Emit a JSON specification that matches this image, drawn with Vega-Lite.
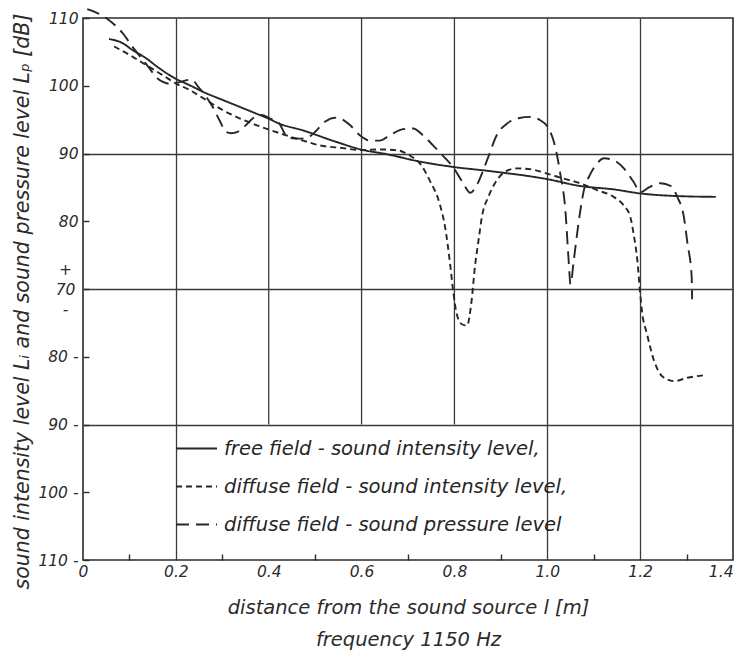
{
  "$schema": "https://vega.github.io/schema/vega-lite/v6.json",
  "width": 650,
  "height": 542,
  "autosize": {"type": "none"},
  "padding": {"left": 83, "top": 18, "right": 7, "bottom": 93},
  "background": "white",
  "config": {
    "view": {"stroke": "#2b2b2b", "strokeWidth": 1.6},
    "font": "DejaVu Sans",
    "axis": {
      "labelFont": "DejaVu Sans", "labelFontStyle": "italic", "labelFontSize": 15.5, "labelColor": "#2b2b2b",
      "titleFont": "DejaVu Sans", "titleFontStyle": "italic", "titleFontWeight": "normal", "titleFontSize": 19.5, "titleColor": "#2b2b2b",
      "gridColor": "#3a3a3a", "gridWidth": 1.3, "tickColor": "#2b2b2b", "tickWidth": 1.4, "domain": false
    }
  },
  "encoding": {
    "x": {
      "field": "distance", "type": "quantitative",
      "scale": {"domain": [0, 1.4], "nice": false, "zero": false},
      "axis": {
        "values": [0, 0.1, 0.2, 0.3, 0.4, 0.5, 0.6, 0.7, 0.8, 0.9, 1.0, 1.1, 1.2, 1.3, 1.4],
        "labelExpr": "round(datum.value*10) % 2 == 1 ? '' : (datum.value == 0 ? '0' : format(datum.value, '.1f'))",
        "tickSize": {"condition": {"test": "round(datum.value*10) % 2 == 1", "value": -6}, "value": 0},
        "labelPadding": 4,
        "labelAlign": {"condition": {"test": "round(datum.value*10) == 14", "value": "right"}, "value": "center"},
        "labelFlush": false,
        "labelOverlap": false,
        "grid": true,
        "gridOpacity": {"condition": {"test": "indexof([2, 10, 12], round(datum.value*10)) >= 0", "value": 1}, "value": 0},
        "title": ["distance from the sound source l [m]", "frequency 1150 Hz"],
        "titleLineHeight": 32,
        "titlePadding": 19
      }
    }
  },
  "layer": [
    {
      "data": {"values": [{"distance": 0.4}, {"distance": 0.6}, {"distance": 0.8}]},
      "mark": {"type": "rule", "color": "#3a3a3a", "strokeWidth": 1.3},
      "encoding": {
        "y": {"datum": 110, "type": "quantitative"},
        "y2": {"datum": -90}
      }
    },
    {
      "data": {"values": [
        {"series": "free field - sound intensity level,", "distance": 0.056, "level": 106.9},
        {"series": "free field - sound intensity level,", "distance": 0.085, "level": 106.3},
        {"series": "free field - sound intensity level,", "distance": 0.106, "level": 105.3},
        {"series": "free field - sound intensity level,", "distance": 0.135, "level": 104.1},
        {"series": "free field - sound intensity level,", "distance": 0.164, "level": 102.6},
        {"series": "free field - sound intensity level,", "distance": 0.198, "level": 101.1},
        {"series": "free field - sound intensity level,", "distance": 0.229, "level": 100.1},
        {"series": "free field - sound intensity level,", "distance": 0.265, "level": 98.9},
        {"series": "free field - sound intensity level,", "distance": 0.301, "level": 97.9},
        {"series": "free field - sound intensity level,", "distance": 0.337, "level": 96.9},
        {"series": "free field - sound intensity level,", "distance": 0.373, "level": 95.9},
        {"series": "free field - sound intensity level,", "distance": 0.398, "level": 95.2},
        {"series": "free field - sound intensity level,", "distance": 0.423, "level": 94.4},
        {"series": "free field - sound intensity level,", "distance": 0.474, "level": 93.4},
        {"series": "free field - sound intensity level,", "distance": 0.546, "level": 91.7},
        {"series": "free field - sound intensity level,", "distance": 0.598, "level": 90.6},
        {"series": "free field - sound intensity level,", "distance": 0.654, "level": 89.9},
        {"series": "free field - sound intensity level,", "distance": 0.726, "level": 88.8},
        {"series": "free field - sound intensity level,", "distance": 0.799, "level": 88.0},
        {"series": "free field - sound intensity level,", "distance": 0.877, "level": 87.4},
        {"series": "free field - sound intensity level,", "distance": 1.001, "level": 86.2},
        {"series": "free field - sound intensity level,", "distance": 1.071, "level": 85.2},
        {"series": "free field - sound intensity level,", "distance": 1.143, "level": 84.7},
        {"series": "free field - sound intensity level,", "distance": 1.201, "level": 84.1},
        {"series": "free field - sound intensity level,", "distance": 1.287, "level": 83.7},
        {"series": "free field - sound intensity level,", "distance": 1.363, "level": 83.6},

        {"series": "diffuse field - sound intensity level,", "distance": 0.067, "level": 105.8},
        {"series": "diffuse field - sound intensity level,", "distance": 0.099, "level": 104.6},
        {"series": "diffuse field - sound intensity level,", "distance": 0.135, "level": 103.1},
        {"series": "diffuse field - sound intensity level,", "distance": 0.171, "level": 101.6},
        {"series": "diffuse field - sound intensity level,", "distance": 0.198, "level": 100.4},
        {"series": "diffuse field - sound intensity level,", "distance": 0.229, "level": 99.4},
        {"series": "diffuse field - sound intensity level,", "distance": 0.265, "level": 97.9},
        {"series": "diffuse field - sound intensity level,", "distance": 0.301, "level": 96.4},
        {"series": "diffuse field - sound intensity level,", "distance": 0.337, "level": 95.2},
        {"series": "diffuse field - sound intensity level,", "distance": 0.373, "level": 94.2},
        {"series": "diffuse field - sound intensity level,", "distance": 0.402, "level": 93.5},
        {"series": "diffuse field - sound intensity level,", "distance": 0.474, "level": 91.9},
        {"series": "diffuse field - sound intensity level,", "distance": 0.51, "level": 91.2},
        {"series": "diffuse field - sound intensity level,", "distance": 0.56, "level": 90.8},
        {"series": "diffuse field - sound intensity level,", "distance": 0.598, "level": 90.5},
        {"series": "diffuse field - sound intensity level,", "distance": 0.639, "level": 90.6},
        {"series": "diffuse field - sound intensity level,", "distance": 0.675, "level": 90.5},
        {"series": "diffuse field - sound intensity level,", "distance": 0.704, "level": 89.7},
        {"series": "diffuse field - sound intensity level,", "distance": 0.726, "level": 88.5},
        {"series": "diffuse field - sound intensity level,", "distance": 0.747, "level": 86.0},
        {"series": "diffuse field - sound intensity level,", "distance": 0.769, "level": 82.4},
        {"series": "diffuse field - sound intensity level,", "distance": 0.78, "level": 79.1},
        {"series": "diffuse field - sound intensity level,", "distance": 0.79, "level": 74.1},
        {"series": "diffuse field - sound intensity level,", "distance": 0.798, "level": -70.7},
        {"series": "diffuse field - sound intensity level,", "distance": 0.805, "level": -73.7},
        {"series": "diffuse field - sound intensity level,", "distance": 0.816, "level": -75.2},
        {"series": "diffuse field - sound intensity level,", "distance": 0.827, "level": -75.4},
        {"series": "diffuse field - sound intensity level,", "distance": 0.837, "level": -71.7},
        {"series": "diffuse field - sound intensity level,", "distance": 0.844, "level": 73.2},
        {"series": "diffuse field - sound intensity level,", "distance": 0.852, "level": 77.2},
        {"series": "diffuse field - sound intensity level,", "distance": 0.859, "level": 80.6},
        {"series": "diffuse field - sound intensity level,", "distance": 0.873, "level": 83.6},
        {"series": "diffuse field - sound intensity level,", "distance": 0.891, "level": 86.0},
        {"series": "diffuse field - sound intensity level,", "distance": 0.909, "level": 87.3},
        {"series": "diffuse field - sound intensity level,", "distance": 0.935, "level": 87.8},
        {"series": "diffuse field - sound intensity level,", "distance": 0.97, "level": 87.6},
        {"series": "diffuse field - sound intensity level,", "distance": 1.001, "level": 87.0},
        {"series": "diffuse field - sound intensity level,", "distance": 1.035, "level": 86.3},
        {"series": "diffuse field - sound intensity level,", "distance": 1.071, "level": 85.6},
        {"series": "diffuse field - sound intensity level,", "distance": 1.107, "level": 84.6},
        {"series": "diffuse field - sound intensity level,", "distance": 1.143, "level": 83.6},
        {"series": "diffuse field - sound intensity level,", "distance": 1.165, "level": 82.3},
        {"series": "diffuse field - sound intensity level,", "distance": 1.179, "level": 80.6},
        {"series": "diffuse field - sound intensity level,", "distance": 1.186, "level": 78.1},
        {"series": "diffuse field - sound intensity level,", "distance": 1.194, "level": 74.2},
        {"series": "diffuse field - sound intensity level,", "distance": 1.199, "level": 70.2},
        {"series": "diffuse field - sound intensity level,", "distance": 1.204, "level": -73.3},
        {"series": "diffuse field - sound intensity level,", "distance": 1.215, "level": -76.7},
        {"series": "diffuse field - sound intensity level,", "distance": 1.23, "level": -80.6},
        {"series": "diffuse field - sound intensity level,", "distance": 1.248, "level": -82.9},
        {"series": "diffuse field - sound intensity level,", "distance": 1.273, "level": -83.6},
        {"series": "diffuse field - sound intensity level,", "distance": 1.302, "level": -83.1},
        {"series": "diffuse field - sound intensity level,", "distance": 1.341, "level": -82.7},

        {"series": "diffuse field - sound pressure level", "distance": 0.009, "level": 111.3},
        {"series": "diffuse field - sound pressure level", "distance": 0.045, "level": 110.2},
        {"series": "diffuse field - sound pressure level", "distance": 0.063, "level": 109.3},
        {"series": "diffuse field - sound pressure level", "distance": 0.085, "level": 107.8},
        {"series": "diffuse field - sound pressure level", "distance": 0.106, "level": 105.8},
        {"series": "diffuse field - sound pressure level", "distance": 0.135, "level": 103.3},
        {"series": "diffuse field - sound pressure level", "distance": 0.146, "level": 102.3},
        {"series": "diffuse field - sound pressure level", "distance": 0.16, "level": 101.1},
        {"series": "diffuse field - sound pressure level", "distance": 0.171, "level": 100.6},
        {"series": "diffuse field - sound pressure level", "distance": 0.186, "level": 100.3},
        {"series": "diffuse field - sound pressure level", "distance": 0.2, "level": 100.4},
        {"series": "diffuse field - sound pressure level", "distance": 0.233, "level": 100.9},
        {"series": "diffuse field - sound pressure level", "distance": 0.251, "level": 99.6},
        {"series": "diffuse field - sound pressure level", "distance": 0.265, "level": 98.4},
        {"series": "diffuse field - sound pressure level", "distance": 0.279, "level": 96.9},
        {"series": "diffuse field - sound pressure level", "distance": 0.294, "level": 94.9},
        {"series": "diffuse field - sound pressure level", "distance": 0.308, "level": 93.2},
        {"series": "diffuse field - sound pressure level", "distance": 0.319, "level": 93.0},
        {"series": "diffuse field - sound pressure level", "distance": 0.333, "level": 93.2},
        {"series": "diffuse field - sound pressure level", "distance": 0.348, "level": 94.0},
        {"series": "diffuse field - sound pressure level", "distance": 0.366, "level": 95.2},
        {"series": "diffuse field - sound pressure level", "distance": 0.384, "level": 95.7},
        {"series": "diffuse field - sound pressure level", "distance": 0.402, "level": 95.2},
        {"series": "diffuse field - sound pressure level", "distance": 0.423, "level": 94.4},
        {"series": "diffuse field - sound pressure level", "distance": 0.434, "level": 93.0},
        {"series": "diffuse field - sound pressure level", "distance": 0.445, "level": 92.3},
        {"series": "diffuse field - sound pressure level", "distance": 0.467, "level": 92.2},
        {"series": "diffuse field - sound pressure level", "distance": 0.482, "level": 92.3},
        {"series": "diffuse field - sound pressure level", "distance": 0.503, "level": 93.4},
        {"series": "diffuse field - sound pressure level", "distance": 0.521, "level": 94.7},
        {"series": "diffuse field - sound pressure level", "distance": 0.546, "level": 95.3},
        {"series": "diffuse field - sound pressure level", "distance": 0.575, "level": 94.2},
        {"series": "diffuse field - sound pressure level", "distance": 0.596, "level": 92.7},
        {"series": "diffuse field - sound pressure level", "distance": 0.618, "level": 91.9},
        {"series": "diffuse field - sound pressure level", "distance": 0.639, "level": 91.9},
        {"series": "diffuse field - sound pressure level", "distance": 0.661, "level": 92.7},
        {"series": "diffuse field - sound pressure level", "distance": 0.689, "level": 93.6},
        {"series": "diffuse field - sound pressure level", "distance": 0.711, "level": 93.7},
        {"series": "diffuse field - sound pressure level", "distance": 0.732, "level": 92.7},
        {"series": "diffuse field - sound pressure level", "distance": 0.754, "level": 91.2},
        {"series": "diffuse field - sound pressure level", "distance": 0.775, "level": 89.7},
        {"series": "diffuse field - sound pressure level", "distance": 0.797, "level": 88.0},
        {"series": "diffuse field - sound pressure level", "distance": 0.819, "level": 85.6},
        {"series": "diffuse field - sound pressure level", "distance": 0.834, "level": 84.2},
        {"series": "diffuse field - sound pressure level", "distance": 0.848, "level": 85.3},
        {"series": "diffuse field - sound pressure level", "distance": 0.859, "level": 87.0},
        {"series": "diffuse field - sound pressure level", "distance": 0.873, "level": 89.5},
        {"series": "diffuse field - sound pressure level", "distance": 0.891, "level": 92.7},
        {"series": "diffuse field - sound pressure level", "distance": 0.913, "level": 94.4},
        {"series": "diffuse field - sound pressure level", "distance": 0.938, "level": 95.2},
        {"series": "diffuse field - sound pressure level", "distance": 0.963, "level": 95.4},
        {"series": "diffuse field - sound pressure level", "distance": 0.985, "level": 94.9},
        {"series": "diffuse field - sound pressure level", "distance": 1.003, "level": 93.7},
        {"series": "diffuse field - sound pressure level", "distance": 1.017, "level": 91.0},
        {"series": "diffuse field - sound pressure level", "distance": 1.028, "level": 87.0},
        {"series": "diffuse field - sound pressure level", "distance": 1.039, "level": 81.6},
        {"series": "diffuse field - sound pressure level", "distance": 1.046, "level": 74.2},
        {"series": "diffuse field - sound pressure level", "distance": 1.05, "level": 70.7},
        {"series": "diffuse field - sound pressure level", "distance": 1.057, "level": 74.2},
        {"series": "diffuse field - sound pressure level", "distance": 1.068, "level": 80.1},
        {"series": "diffuse field - sound pressure level", "distance": 1.078, "level": 84.3},
        {"series": "diffuse field - sound pressure level", "distance": 1.093, "level": 87.0},
        {"series": "diffuse field - sound pressure level", "distance": 1.107, "level": 88.5},
        {"series": "diffuse field - sound pressure level", "distance": 1.122, "level": 89.3},
        {"series": "diffuse field - sound pressure level", "distance": 1.143, "level": 89.0},
        {"series": "diffuse field - sound pressure level", "distance": 1.165, "level": 87.8},
        {"series": "diffuse field - sound pressure level", "distance": 1.186, "level": 85.8},
        {"series": "diffuse field - sound pressure level", "distance": 1.201, "level": 84.3},
        {"series": "diffuse field - sound pressure level", "distance": 1.219, "level": 85.0},
        {"series": "diffuse field - sound pressure level", "distance": 1.244, "level": 85.6},
        {"series": "diffuse field - sound pressure level", "distance": 1.266, "level": 85.2},
        {"series": "diffuse field - sound pressure level", "distance": 1.28, "level": 83.6},
        {"series": "diffuse field - sound pressure level", "distance": 1.294, "level": 80.7},
        {"series": "diffuse field - sound pressure level", "distance": 1.302, "level": 76.7},
        {"series": "diffuse field - sound pressure level", "distance": 1.311, "level": 71.8},
        {"series": "diffuse field - sound pressure level", "distance": 1.312, "level": -71.5}
      ]},
      "mark": {"type": "line", "interpolate": "monotone", "strokeWidth": 1.9, "color": "#262626", "clip": false},
      "encoding": {
        "y": {
          "field": "level", "type": "quantitative",
          "scale": {"domain": [-110, -70, 70, 110], "range": [542, 271, 271, 0], "nice": false, "zero": false},
          "axis": {
            "values": [110, 105, 100, 95, 90, 85, 80, 75, 70, -75, -80, -85, -90, -95, -100, -105, -110],
            "labelExpr": "abs(datum.value) % 10 != 0 ? '' : (datum.value == 70 ? ['+', '70', '-'] : (datum.value < 0 ? toString(abs(datum.value)) + ' -' : toString(datum.value)))",
            "tickSize": -6,
            "labelPadding": {"condition": {"test": "datum.value == 70", "value": 24}, "value": 11},
            "labelAlign": {"condition": {"test": "datum.value == 70", "value": "center"}, "value": "right"},
            "labelOffset": {"condition": {"test": "datum.value == 70", "value": -20}, "value": 0},
            "labelLineHeight": 20,
            "labelOverlap": false,
            "grid": true,
            "gridOpacity": {"condition": {"test": "datum.value == 90 || datum.value == 70 || datum.value == -90", "value": 1}, "value": 0},
            "title": "sound intensity level Lᵢ and sound pressure level Lₚ [dB]",
            "titleFontSize": 20.5,
            "titleY": 283,
            "titlePadding": 5
          }
        },
        "strokeDash": {
          "field": "series", "type": "nominal",
          "scale": {
            "domain": ["free field - sound intensity level,", "diffuse field - sound intensity level,", "diffuse field - sound pressure level"],
            "range": [[1, 0], [6, 4], [13, 7]]
          },
          "legend": {
            "title": null, "orient": "none", "legendX": 92, "legendY": 409,
            "symbolType": "stroke", "symbolSize": 1681, "symbolStrokeWidth": 2, "symbolStrokeColor": "#262626",
            "labelFont": "DejaVu Sans", "labelFontStyle": "italic", "labelFontSize": 19.5, "labelColor": "#262626",
            "labelOffset": 6, "rowPadding": 7, "padding": 0, "labelLimit": 500
          }
        }
      }
    }
  ]
}
